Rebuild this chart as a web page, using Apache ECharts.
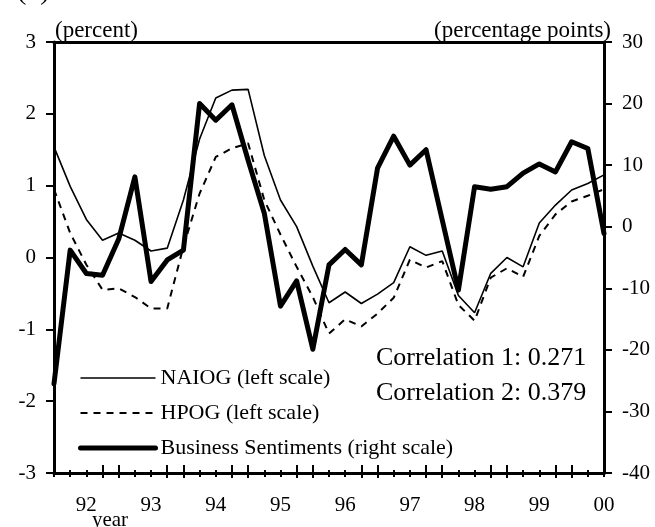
<!DOCTYPE html>
<html>
<head>
<meta charset="utf-8">
<script src="https://cdn.jsdelivr.net/npm/echarts@6/dist/echarts.min.js"></script>
<style>
  html, body { margin: 0; padding: 0; background: #fff; }
  #container { width: 655px; height: 527px; }
</style>
</head>
<body>
<div id="container"></div>
<script>
// quarterly points, 92 .. 00
var yearLabels = ['92', '93', '94', '95', '96', '97', '98', '99', '00'];
var quarters = [];
for (var k = 0; k < 35; k++) {
    quarters.push(yearLabels[Math.floor(k / 4)] + 'Q' + (k % 4 + 1));
}

var naiog = [1.54, 0.99, 0.53, 0.24, 0.34, 0.24, 0.09, 0.13, 0.80, 1.65, 2.22, 2.33, 2.34, 1.42, 0.80, 0.43, -0.12,
    -0.63, -0.48, -0.64, -0.51, -0.35, 0.15, 0.03, 0.09, -0.53, -0.77, -0.22, 0.00, -0.13, 0.48, 0.73, 0.94, 1.03, 1.15];
var hpog = [0.95, 0.34, -0.10, -0.45, -0.43, -0.55, -0.71, -0.71, 0.15, 0.89, 1.40, 1.52, 1.59, 0.80, 0.32, -0.13, -0.55,
    -1.06, -0.86, -0.96, -0.78, -0.56, -0.03, -0.14, -0.05, -0.66, -0.88, -0.28, -0.15, -0.27, 0.30, 0.60, 0.78, 0.86, 0.95];
var sentiment = [-25.5, -3.8, -7.6, -7.9, -2.0, 8.1, -8.9, -5.4, -3.8, 20.0, 17.3, 19.8, 10.8, 2.2, -12.9, -8.8, -19.9,
    -6.2, -3.7, -6.2, 9.5, 14.7, 10.0, 12.5, 1.1, -10.3, 6.5, 6.1, 6.5, 8.7, 10.2, 8.9, 13.8, 12.7, -1.1];

var serif = 'Liberation Serif';
var dom = document.getElementById('container');
var myChart = echarts.init(dom);

function isLong(i) { return i % 4 === 3 || (i % 4 === 0 && i > 0 && i < 34); }
function isLabel(i) { return i % 4 === 2; }

function tickAxis(filter, len, inside) {
    return {
        type: 'category', position: 'bottom', data: quarters, boundaryGap: false,
        axisLine: { show: false, onZero: false },
        axisTick: { show: true, interval: filter, length: len, inside: inside, lineStyle: { color: '#000', width: 2 } },
        axisLabel: { show: false }, splitLine: { show: false }
    };
}

var option = {
    animation: false,
    grid: { left: 54, right: 51, top: 42, bottom: 54 },
    legend: {
        orient: 'vertical', left: 73, top: 362, itemWidth: 75, itemHeight: 14, itemGap: 13,
        itemStyle: { opacity: 0 },
        textStyle: { fontFamily: serif, fontSize: 22, lineHeight: 22, color: '#000' },
        data: [
            { name: 'NAIOG (left scale)', lineStyle: { width: 1.6 } },
            { name: 'HPOG (left scale)', lineStyle: { width: 2, type: [7, 6] } },
            { name: 'Business Sentiments (right scale)', lineStyle: { width: 5 } }
        ]
    },
    xAxis: [
        {
            type: 'category', position: 'bottom', data: quarters, boundaryGap: false,
            axisLine: { show: true, onZero: false, lineStyle: { color: '#000', width: 3 } },
            axisTick: { show: true, interval: 0, length: 4, lineStyle: { color: '#000', width: 2 } },
            axisLabel: {
                interval: function (i) { return isLabel(i); },
                formatter: function (v, i) { return yearLabels[Math.floor(i / 4)]; },
                fontFamily: serif, fontSize: 21, color: '#000', margin: 22
            },
            splitLine: { show: false }
        },
        tickAxis(0, 3, true),
        tickAxis(function (i) { return isLong(i); }, 5, false),
        tickAxis(function (i) { return isLong(i); }, 8, true),
        {
            type: 'category', position: 'top', data: quarters, boundaryGap: false,
            axisLine: { show: true, onZero: false, lineStyle: { color: '#000', width: 3 } },
            axisTick: { show: false }, axisLabel: { show: false }
        }
    ],
    yAxis: [
        {
            type: 'value', position: 'left', min: -3, max: 3, interval: 1,
            axisLine: { show: true, onZero: false, lineStyle: { color: '#000', width: 3 } },
            axisTick: { show: true, length: 8, lineStyle: { color: '#000', width: 2 } },
            axisLabel: { fontFamily: serif, fontSize: 21, color: '#000', margin: 18 },
            splitLine: { show: false }
        },
        {
            type: 'value', position: 'right', min: -40, max: 30, interval: 10,
            axisLine: { show: true, onZero: false, lineStyle: { color: '#000', width: 3 } },
            axisTick: { show: true, length: 8, lineStyle: { color: '#000', width: 2 } },
            axisLabel: { fontFamily: serif, fontSize: 21, color: '#000', margin: 18 },
            splitLine: { show: false }
        }
    ],
    series: [
        {
            name: 'NAIOG (left scale)', type: 'line', yAxisIndex: 0, data: naiog,
            symbol: 'none', color: '#000', lineStyle: { color: '#000', width: 1.6 }
        },
        {
            name: 'HPOG (left scale)', type: 'line', yAxisIndex: 0, data: hpog,
            symbol: 'none', color: '#000', lineStyle: { color: '#000', width: 2, type: [7, 6] }
        },
        {
            name: 'Business Sentiments (right scale)', type: 'line', yAxisIndex: 1, data: sentiment,
            symbol: 'none', color: '#000', lineStyle: { color: '#000', width: 5, cap: 'round', join: 'round' }
        }
    ],
    graphic: [
        { type: 'text', left: 17, top: -22, style: { text: '(4) Canada', font: '28px "Liberation Serif"', fill: '#000' } },
        { type: 'text', x: 55, y: 31, style: { text: '(percent)', font: '23px "Liberation Serif"', fill: '#000', verticalAlign: 'middle' } },
        { type: 'text', x: 611, y: 31, style: { text: '(percentage points)', font: '23px "Liberation Serif"', fill: '#000', align: 'right', verticalAlign: 'middle' } },
        { type: 'text', x: 376, y: 358, style: { text: 'Correlation 1: 0.271', font: '26px "Liberation Serif"', fill: '#000', verticalAlign: 'middle' } },
        { type: 'text', x: 376, y: 393, style: { text: 'Correlation 2: 0.379', font: '26px "Liberation Serif"', fill: '#000', verticalAlign: 'middle' } },
        { type: 'text', x: 110, y: 531, style: { text: 'year', font: '21px "Liberation Serif"', fill: '#000', align: 'center', verticalAlign: 'bottom' } }
    ]
};
if (option && typeof option === 'object') {
    myChart.setOption(option, true);
}
</script>
</body>
</html>
